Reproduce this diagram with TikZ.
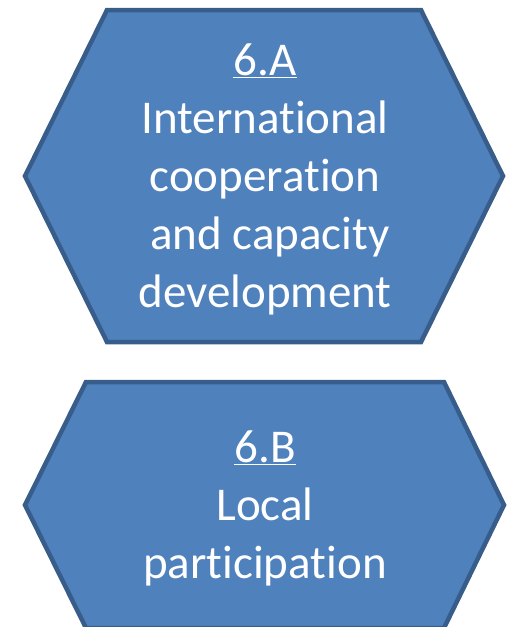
\documentclass[tikz,border=0pt]{standalone}
\usepackage{fontspec}
\setmainfont[RawFeature={-liga,-dlig,-clig}]{Carlito}
\definecolor{hexfill}{HTML}{4F81BD}
\definecolor{hexline}{HTML}{385D8A}
\tikzset{
  hexbox/.style={fill=hexfill, draw=hexline, line width=4.5pt, line join=miter},
  hextext/.style={text=white, anchor=base, inner sep=0pt, font=\fontsize{47}{56}\selectfont}
}
\begin{document}
\begin{tikzpicture}[x=1pt,y=-1pt]
\useasboundingbox (0,0) rectangle (508,627);
% top hexagon
\coordinate (a1) at (107,10);
\coordinate (a2) at (421,10);
\coordinate (a3) at (503,176);
\coordinate (a4) at (421,342);
\coordinate (a5) at (107,342);
\coordinate (a6) at (25,176);
\draw[hexbox] (a1) -- (a2) -- (a3) -- (a4) -- (a5) -- (a6) -- cycle;
% bottom hexagon
\coordinate (b1) at (86,382);
\coordinate (b2) at (444,382);
\coordinate (b3) at (504,505);
\coordinate (b4) at (444,628);
\coordinate (b5) at (86,628);
\coordinate (b6) at (25,505);
\draw[hexbox] (b1) -- (b2) -- (b3) -- (b4) -- (b5) -- (b6) -- cycle;
% texts
\node[hextext] (t1) at (265,75) {\underline{6.A}};
\node[hextext] (t2) at (265,133) {International};
\node[hextext] (t3) at (265,191) {cooperation};
\node[hextext] (t4) at (270,249) {and capacity};
\node[hextext] (t5) at (265,307) {development};
\node[hextext] (u1) at (265,462) {\underline{6.B}};
\node[hextext] (u2) at (265,520) {Local};
\node[hextext] (u3) at (265,578) {participation};
\end{tikzpicture}
\end{document}
